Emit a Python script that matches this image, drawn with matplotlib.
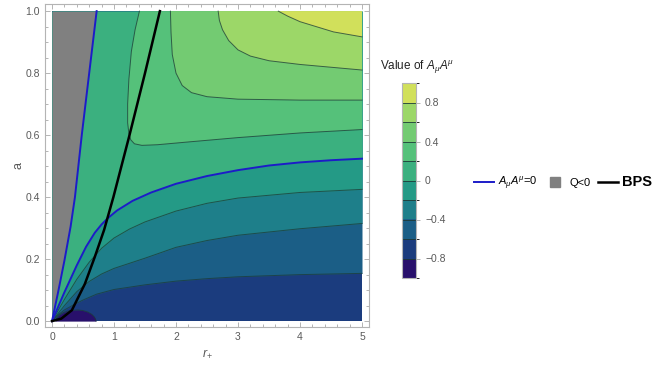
import matplotlib
matplotlib.use("Agg")
import matplotlib.pyplot as plt
from matplotlib.colors import ListedColormap, BoundaryNorm
from matplotlib.cm import ScalarMappable
from matplotlib.lines import Line2D
from matplotlib.ticker import MultipleLocator, FormatStrFormatter

plt.rcParams["font.family"] = ["Liberation Sans", "DejaVu Sans"]
plt.rcParams["mathtext.fontset"] = "custom"
plt.rcParams["mathtext.rm"] = "Liberation Sans"
plt.rcParams["mathtext.it"] = "Liberation Sans:italic"

# --- levels / colours of the contour bands ---
LEVELS = [-1.0, -0.8, -0.6, -0.4, -0.2, 0.0, 0.2, 0.4, 0.6, 0.8, 1.0]
BAND_COLORS = ["#28106b", "#1b3c7e", "#1b5e86", "#1e7f8a", "#249a86",
               "#3bb07f", "#55c17a", "#73cb72", "#9cd768", "#d1e05b"]
CB_TICKS = [-0.8, -0.4, 0.0, 0.4, 0.8]

R_RANGE = [0.0, 5.0]
A_TOP = 1.0

# --- contour lines, (r_+, a) ---
# level -0.8 (closed bump at the bottom)
M8_R = [0.05, 0.08, 0.12, 0.18, 0.25, 0.33, 0.42, 0.5, 0.58, 0.64, 0.68, 0.7, 0.71]
M8_A = [0.0, 0.011, 0.02, 0.027, 0.032, 0.035, 0.036, 0.034, 0.029, 0.022, 0.014, 0.007, 0.0]
# level -0.6
M6_R = [0.0, 0.1, 0.2, 0.37, 0.5, 0.72, 1.0, 1.5, 2.0, 2.5, 3.0, 4.0, 5.0]
M6_A = [0.0, 0.02, 0.036, 0.055, 0.068, 0.087, 0.102, 0.117, 0.129, 0.137, 0.143, 0.15, 0.154]
# level -0.4
M4_R = [0.0, 0.2, 0.4, 0.6, 0.8, 1.0, 1.5, 2.0, 2.5, 3.0, 4.0, 5.0]
M4_A = [0.0, 0.05, 0.095, 0.128, 0.152, 0.17, 0.203, 0.238, 0.26, 0.277, 0.298, 0.315]
# level -0.2
M2_R = [0.0, 0.2, 0.4, 0.6, 0.8, 1.0, 1.25, 1.5, 2.0, 2.5, 3.0, 4.0, 5.0]
M2_A = [0.0, 0.07, 0.135, 0.19, 0.235, 0.268, 0.297, 0.32, 0.355, 0.38, 0.397, 0.415, 0.425]
# level 0, lower branch
Z_R = [0.0, 0.2, 0.4, 0.55, 0.69, 0.8, 0.9, 1.05, 1.3, 1.6, 2.0, 2.5, 3.0, 3.5, 4.0, 4.5, 5.0]
Z_A = [0.0, 0.093, 0.18, 0.24, 0.285, 0.312, 0.332, 0.357, 0.388, 0.415, 0.443, 0.468, 0.487,
       0.502, 0.512, 0.519, 0.524]
# level 0, steep branch (also the edge of Q<0)
B1_R = [0.0, 0.1, 0.2, 0.3, 0.37, 0.48, 0.6, 0.72]
B1_A = [0.0, 0.095, 0.195, 0.305, 0.4, 0.6, 0.8, 1.0]
# levels 0.2 .. 0.8 (bend up to the top edge)
P2_R = [5.0, 4.0, 3.0, 2.2, 1.7, 1.45, 1.33, 1.27, 1.24, 1.22, 1.22, 1.24, 1.28, 1.34, 1.41]
P2_A = [0.618, 0.607, 0.592, 0.578, 0.569, 0.567, 0.572, 0.585, 0.605, 0.64, 0.7, 0.78, 0.87, 0.94, 1.0]
P4_R = [5.0, 4.0, 3.0, 2.5, 2.25, 2.1, 2.0, 1.94, 1.92, 1.91]
P4_A = [0.713, 0.713, 0.716, 0.724, 0.737, 0.76, 0.8, 0.86, 0.93, 1.0]
P6_R = [5.0, 4.0, 3.5, 3.2, 3.0, 2.85, 2.75, 2.7, 2.68]
P6_A = [0.81, 0.828, 0.84, 0.855, 0.875, 0.905, 0.94, 0.97, 1.0]
P8_R = [5.0, 4.54, 4.0, 3.8, 3.65]
P8_A = [0.917, 0.933, 0.966, 0.984, 1.0]

# BPS curve
BPS_R = [0.0, 0.15, 0.32, 0.53, 0.69, 0.84, 0.99, 1.25, 1.5, 1.74]
BPS_A = [0.0, 0.008, 0.035, 0.12, 0.207, 0.294, 0.4, 0.6, 0.8, 1.0]

LINE_COLOR = "#1d3a36"
BLUE = "#1c1cc8"
GRAY_TXT = "#5a5a5a"
FRAME = "#b4b4b4"

fig = plt.figure(figsize=(6.68, 3.67), dpi=100, facecolor="white")
ax = fig.add_axes([45 / 668, 1 - 327 / 367, 324 / 668, 323 / 367])
ax.set_facecolor("white")

# filled bands, painted bottom-up
ax.fill_between(R_RANGE, 0, A_TOP, color=BAND_COLORS[1], lw=0)
lower = [(M6_R, M6_A), (M4_R, M4_A), (M2_R, M2_A), (Z_R, Z_A)]
for (r, a), c in zip(lower, BAND_COLORS[2:6]):
    ax.fill_between(r, a, A_TOP, color=c, lw=0)
upper = [(P2_R, P2_A), (P4_R, P4_A), (P6_R, P6_A), (P8_R, P8_A)]
for (r, a), c in zip(upper, BAND_COLORS[6:10]):
    ax.fill(r + [R_RANGE[1]], a + [A_TOP], color=c, lw=0)
ax.fill_between(M8_R, 0, M8_A, color=BAND_COLORS[0], lw=0)

# Q<0 region
ax.fill_betweenx(B1_A, 0, B1_R, color="#808080", lw=0)

# contour lines
for r, a in [(M8_R, M8_A), (M6_R, M6_A), (M4_R, M4_A), (M2_R, M2_A)] + upper:
    ax.plot(r, a, color=LINE_COLOR, lw=0.7, alpha=0.75)
ax.plot(Z_R, Z_A, color=BLUE, lw=1.4)
ax.plot(B1_R, B1_A, color=BLUE, lw=1.4)
ax.plot(BPS_R, BPS_A, color="black", lw=1.8)

ax.set_xlim(-0.113, 5.113)
ax.set_ylim(-0.019, 1.023)
ax.xaxis.set_major_locator(MultipleLocator(1))
ax.xaxis.set_minor_locator(MultipleLocator(0.2))
ax.yaxis.set_major_locator(MultipleLocator(0.2))
ax.yaxis.set_minor_locator(MultipleLocator(0.05))
ax.yaxis.set_major_formatter(FormatStrFormatter("%.1f"))
ax.tick_params(which="both", direction="in", top=True, right=True, colors=FRAME,
               labelcolor=GRAY_TXT, labelsize=7.5, width=0.7)
ax.tick_params(which="major", length=3.5)
ax.tick_params(which="minor", length=2)
for s in ax.spines.values():
    s.set_color(FRAME)
    s.set_linewidth(0.8)
ax.set_xlabel(r"$r_{+}$", color=GRAY_TXT, fontsize=9, labelpad=4)
ax.set_ylabel("a", color=GRAY_TXT, fontsize=9, labelpad=1)

# colour bar
cax = fig.add_axes([402 / 668, 1 - 278 / 367, 14 / 668, 195 / 367])
cmap = ListedColormap(BAND_COLORS)
norm = BoundaryNorm(LEVELS, cmap.N)
cb = fig.colorbar(ScalarMappable(norm=norm, cmap=cmap), cax=cax, ticks=CB_TICKS, drawedges=True)
cb.dividers.set_color(LINE_COLOR)
cb.dividers.set_linewidth(0.6)
cb.outline.set_edgecolor(FRAME)
cb.outline.set_linewidth(0.8)
cb.ax.set_yticklabels([f"{t:g}".replace("-", "\u2212") for t in CB_TICKS])
cax.tick_params(labelsize=7.5, colors=FRAME, labelcolor=GRAY_TXT, length=3, width=0.7)
fig.text(380 / 668, 1 - 67 / 367, r"Value of $A_{\mu}A^{\mu}$", fontsize=8.5,
         color="#222222", va="center")

# legend
handles = [Line2D([], [], color=BLUE, lw=1.4),
           Line2D([], [], color="#808080", marker="s", ls="none", markersize=6.5),
           Line2D([], [], color="black", lw=1.8)]
leg = fig.legend(handles, [r"$A_{\mu}A^{\mu}$=0", "Q<0", "BPS"], loc="center",
                 bbox_to_anchor=(563 / 668, 1 - 183 / 367), ncol=3, frameon=False,
                 fontsize=8, handlelength=1.8, handletextpad=0.35, columnspacing=0.7)
leg.get_texts()[2].set_fontweight("bold")
leg.get_texts()[2].set_fontsize(10.5)

fig.savefig("out.png", dpi=100)
